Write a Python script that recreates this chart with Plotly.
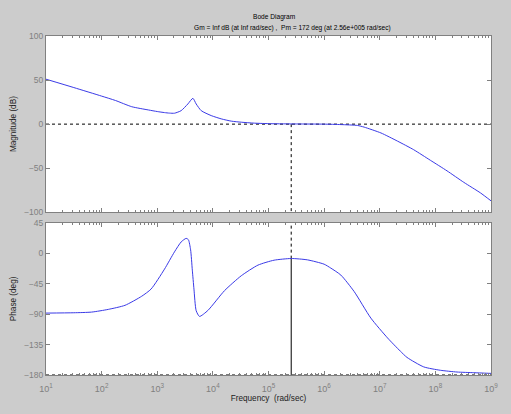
import plotly.graph_objects as go

# ---- data ----
mag_freq = [10, 31.6, 100, 178, 347, 692, 1000, 1350, 1660, 2040, 2690, 3550, 4370, 5010,
            6170, 9330, 14100, 21400, 32400, 56200, 110000, 316000, 1e6, 2e6, 3.98e6,
            5.25e6, 1.05e7, 2.09e7, 4.07e7, 8.13e7, 1.62e8, 3.24e8, 6.46e8, 1e9]
mag_db = [51, 41.5, 31.8, 26.8, 19.8, 16.1, 14.3, 13.1, 12.5, 12.4, 15.3, 22.9, 29.3, 22.9,
          15.3, 9.7, 6.0, 3.4, 2.2, 1.1, 0.5, 0.2, 0.0, -0.5, -1.5,
          -3.4, -10, -19.3, -29, -41, -53, -66, -78, -87]

ph_freq = [10, 31.6, 66.1, 132, 263, 525, 776, 1350, 2040, 2690, 3310, 3630, 3980,
           4270, 4570, 5010, 5750, 8130, 16200, 32400, 64600, 126000, 257000,
           501000, 1e6, 1.32e6, 2e6, 3.47e6, 6.92e6, 1.38e7, 2.34e7, 3.09e7,
           6.17e7, 1.23e8, 2.45e8, 4.9e8, 1e9]
ph_deg = [-88.5, -88, -87, -83, -77, -63.6, -52.9, -23.5, 2, 16.7, 22, 20, 5,
          -25, -53, -85, -93.4, -84.6, -55.3, -33.3, -17.6, -10.3, -7.8,
          -9.8, -16.2, -22, -32.3, -56.7, -95.9, -125.2, -144.7, -154,
          -168, -173, -175.6, -176.6, -177.6]

wc = 2.56e5          # phase crossover frequency (rad/sec)
pm = 172             # phase margin (deg)
f_min, f_max = 10, 1e9

mag_ticks = [-100, -50, 0, 50, 100]
ph_ticks = [-180, -135, -90, -45, 0, 45]
x_tickvals = [1e1, 1e2, 1e3, 1e4, 1e5, 1e6, 1e7, 1e8, 1e9]
x_ticktext = ["10<sup>1</sup>", "10<sup>2</sup>", "10<sup>3</sup>", "10<sup>4</sup>",
              "10<sup>5</sup>", "10<sup>6</sup>", "10<sup>7</sup>", "10<sup>8</sup>",
              "10<sup>9</sup>"]
minor_vals = [m * d for d in x_tickvals[:-1] for m in range(2, 10)]

title1 = "Bode Diagram"
title2 = "Gm = Inf dB (at Inf rad/sec) ,  Pm = 172 deg (at 2.56e+005 rad/sec)"

BLUE = "#3a3ae6"
GRAY = "#808080"
FONT = "Liberation Sans, Arial, sans-serif"

fig = go.Figure()

# magnitude
fig.add_trace(go.Scatter(x=[f_min, f_max], y=[0, 0], mode="lines",
                         line=dict(color="black", width=1, dash="dot"),
                         xaxis="x", yaxis="y", hoverinfo="skip"))
fig.add_trace(go.Scatter(x=[wc, wc], y=[0, -100], mode="lines",
                         line=dict(color="black", width=1, dash="dot"),
                         xaxis="x", yaxis="y", hoverinfo="skip"))
fig.add_trace(go.Scatter(x=mag_freq, y=mag_db, mode="lines",
                         line=dict(color=BLUE, width=1, shape="spline", smoothing=0.6),
                         xaxis="x", yaxis="y"))

# phase
ph_at_wc = pm - 180
fig.add_trace(go.Scatter(x=[f_min, f_max], y=[-180, -180], mode="lines",
                         line=dict(color="black", width=1, dash="dot"),
                         xaxis="x2", yaxis="y2", hoverinfo="skip"))
fig.add_trace(go.Scatter(x=[wc, wc], y=[ph_at_wc, 45], mode="lines",
                         line=dict(color="black", width=1, dash="dot"),
                         xaxis="x2", yaxis="y2", hoverinfo="skip"))
fig.add_trace(go.Scatter(x=[wc, wc], y=[-180, ph_at_wc], mode="lines",
                         line=dict(color="black", width=1),
                         xaxis="x2", yaxis="y2", hoverinfo="skip"))
fig.add_trace(go.Scatter(x=ph_freq, y=ph_deg, mode="lines",
                         line=dict(color=BLUE, width=1, shape="spline", smoothing=0.6),
                         xaxis="x2", yaxis="y2"))

axis_common = dict(showline=True, linecolor=GRAY, linewidth=1, mirror="ticks",
                   ticks="inside", ticklen=4, tickcolor=GRAY, showgrid=False,
                   zeroline=False, tickfont=dict(family=FONT, size=8.5, color=GRAY))

xcommon = dict(axis_common, type="log", range=[1, 9], tickmode="array",
               tickvals=x_tickvals, tickfont=dict(family=FONT, size=9, color=GRAY),
               minor=dict(ticks="inside", ticklen=2, tickcolor=GRAY,
                          tickmode="array", tickvals=minor_vals, showgrid=False))

label_font = dict(family=FONT, size=8.2, color="#222222")

fig.update_layout(
    width=511, height=414,
    paper_bgcolor="#cccccc", plot_bgcolor="white",
    showlegend=False,
    margin=dict(l=44, r=20, t=36, b=37),
    font=dict(family=FONT, size=8, color="black"),
    xaxis=dict(xcommon, anchor="y", showticklabels=False, ticktext=x_ticktext),
    yaxis=dict(axis_common, domain=[0.48, 1.0], range=[-100, 100],
               tickvals=mag_ticks,
               title=dict(text="Magnitude (dB)", font=label_font, standoff=6)),
    xaxis2=dict(xcommon, anchor="y2", ticktext=x_ticktext,
                ticklabelstandoff=5,
                title=dict(text="Frequency  (rad/sec)", font=label_font, standoff=2)),
    yaxis2=dict(axis_common, domain=[0.0, 0.449], range=[-180, 45],
                tickvals=ph_ticks,
                title=dict(text="Phase (deg)", font=label_font, standoff=6)),
    annotations=[
        dict(text=title1, xref="paper", yref="paper", x=0.513, y=1.0, yshift=13,
             xanchor="center", yanchor="bottom", showarrow=False,
             font=dict(family=FONT, size=6.6, color="black")),
        dict(text=title2, xref="paper", yref="paper", x=0.553, y=1.0, yshift=2,
             xanchor="center", yanchor="bottom", showarrow=False,
             font=dict(family=FONT, size=6.6, color="black")),
    ],
)

fig.write_html("out.html",
               config={"displayModeBar": False},
               post_script="document.body.style.margin='0';"
                           "document.body.style.background='#cccccc';")
